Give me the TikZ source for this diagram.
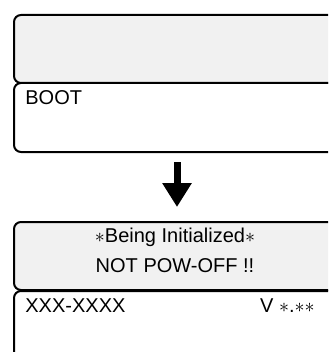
\documentclass[tikz,border=0pt]{standalone}
\usepackage{fontspec}
\setmainfont{Liberation Sans}
\usepackage{tikz}
\usetikzlibrary{arrows.meta}

\begin{document}
\begin{tikzpicture}[
    x=0.5pt,
    y=-0.5pt,
    every node/.style={font=\fontsize{10pt}{12pt}\selectfont},
    panel/.style={draw, line width=1pt, rounded corners=3.5pt,
        anchor=north west, inner sep=0pt, minimum width=163pt},
    lcdtop/.style={panel, fill=gray!11, minimum height=34pt},
    lcdbot/.style={panel, fill=white, minimum height=34.5pt},
    lcdtext/.style={inner sep=0pt, text=black},
    step arrow/.style={-{Triangle[length=12pt,width=14pt]}, draw=black,
        line width=3.5pt, shorten <=4.5pt, shorten >=7pt}
]
    \useasboundingbox (0,0) rectangle (328,352);
    \clip (0,0) rectangle (328,352);

    % screen before
    \node[lcdbot] (bootbot) at (13,82) {};
    \node[lcdtop] (boottop) at (13,14) {};
    \node[lcdtext, anchor=base west] (boot) at (25,105) {BOOT};

    % screen after
    \node[lcdbot, minimum height=45pt] (initbot) at (13,290) {};
    \node[lcdtop] (inittop) at (13,221) {};
    \node[lcdtext, anchor=base] (initmsg) at (175,242.7)
        {$\ast$Being Initialized$\ast$};
    \node[lcdtext, anchor=base] (nopower) at (175,272.7) {NOT POW-OFF !!};
    \node[lcdtext, anchor=base west] (model) at (25,312.7) {XXX-XXXX};
    \node[lcdtext, anchor=base east] (version) at (315,312.7)
        {V $\ast$.$\ast\ast$};

    \draw[step arrow] (bootbot.south) -- (inittop.north);
\end{tikzpicture}
\end{document}
